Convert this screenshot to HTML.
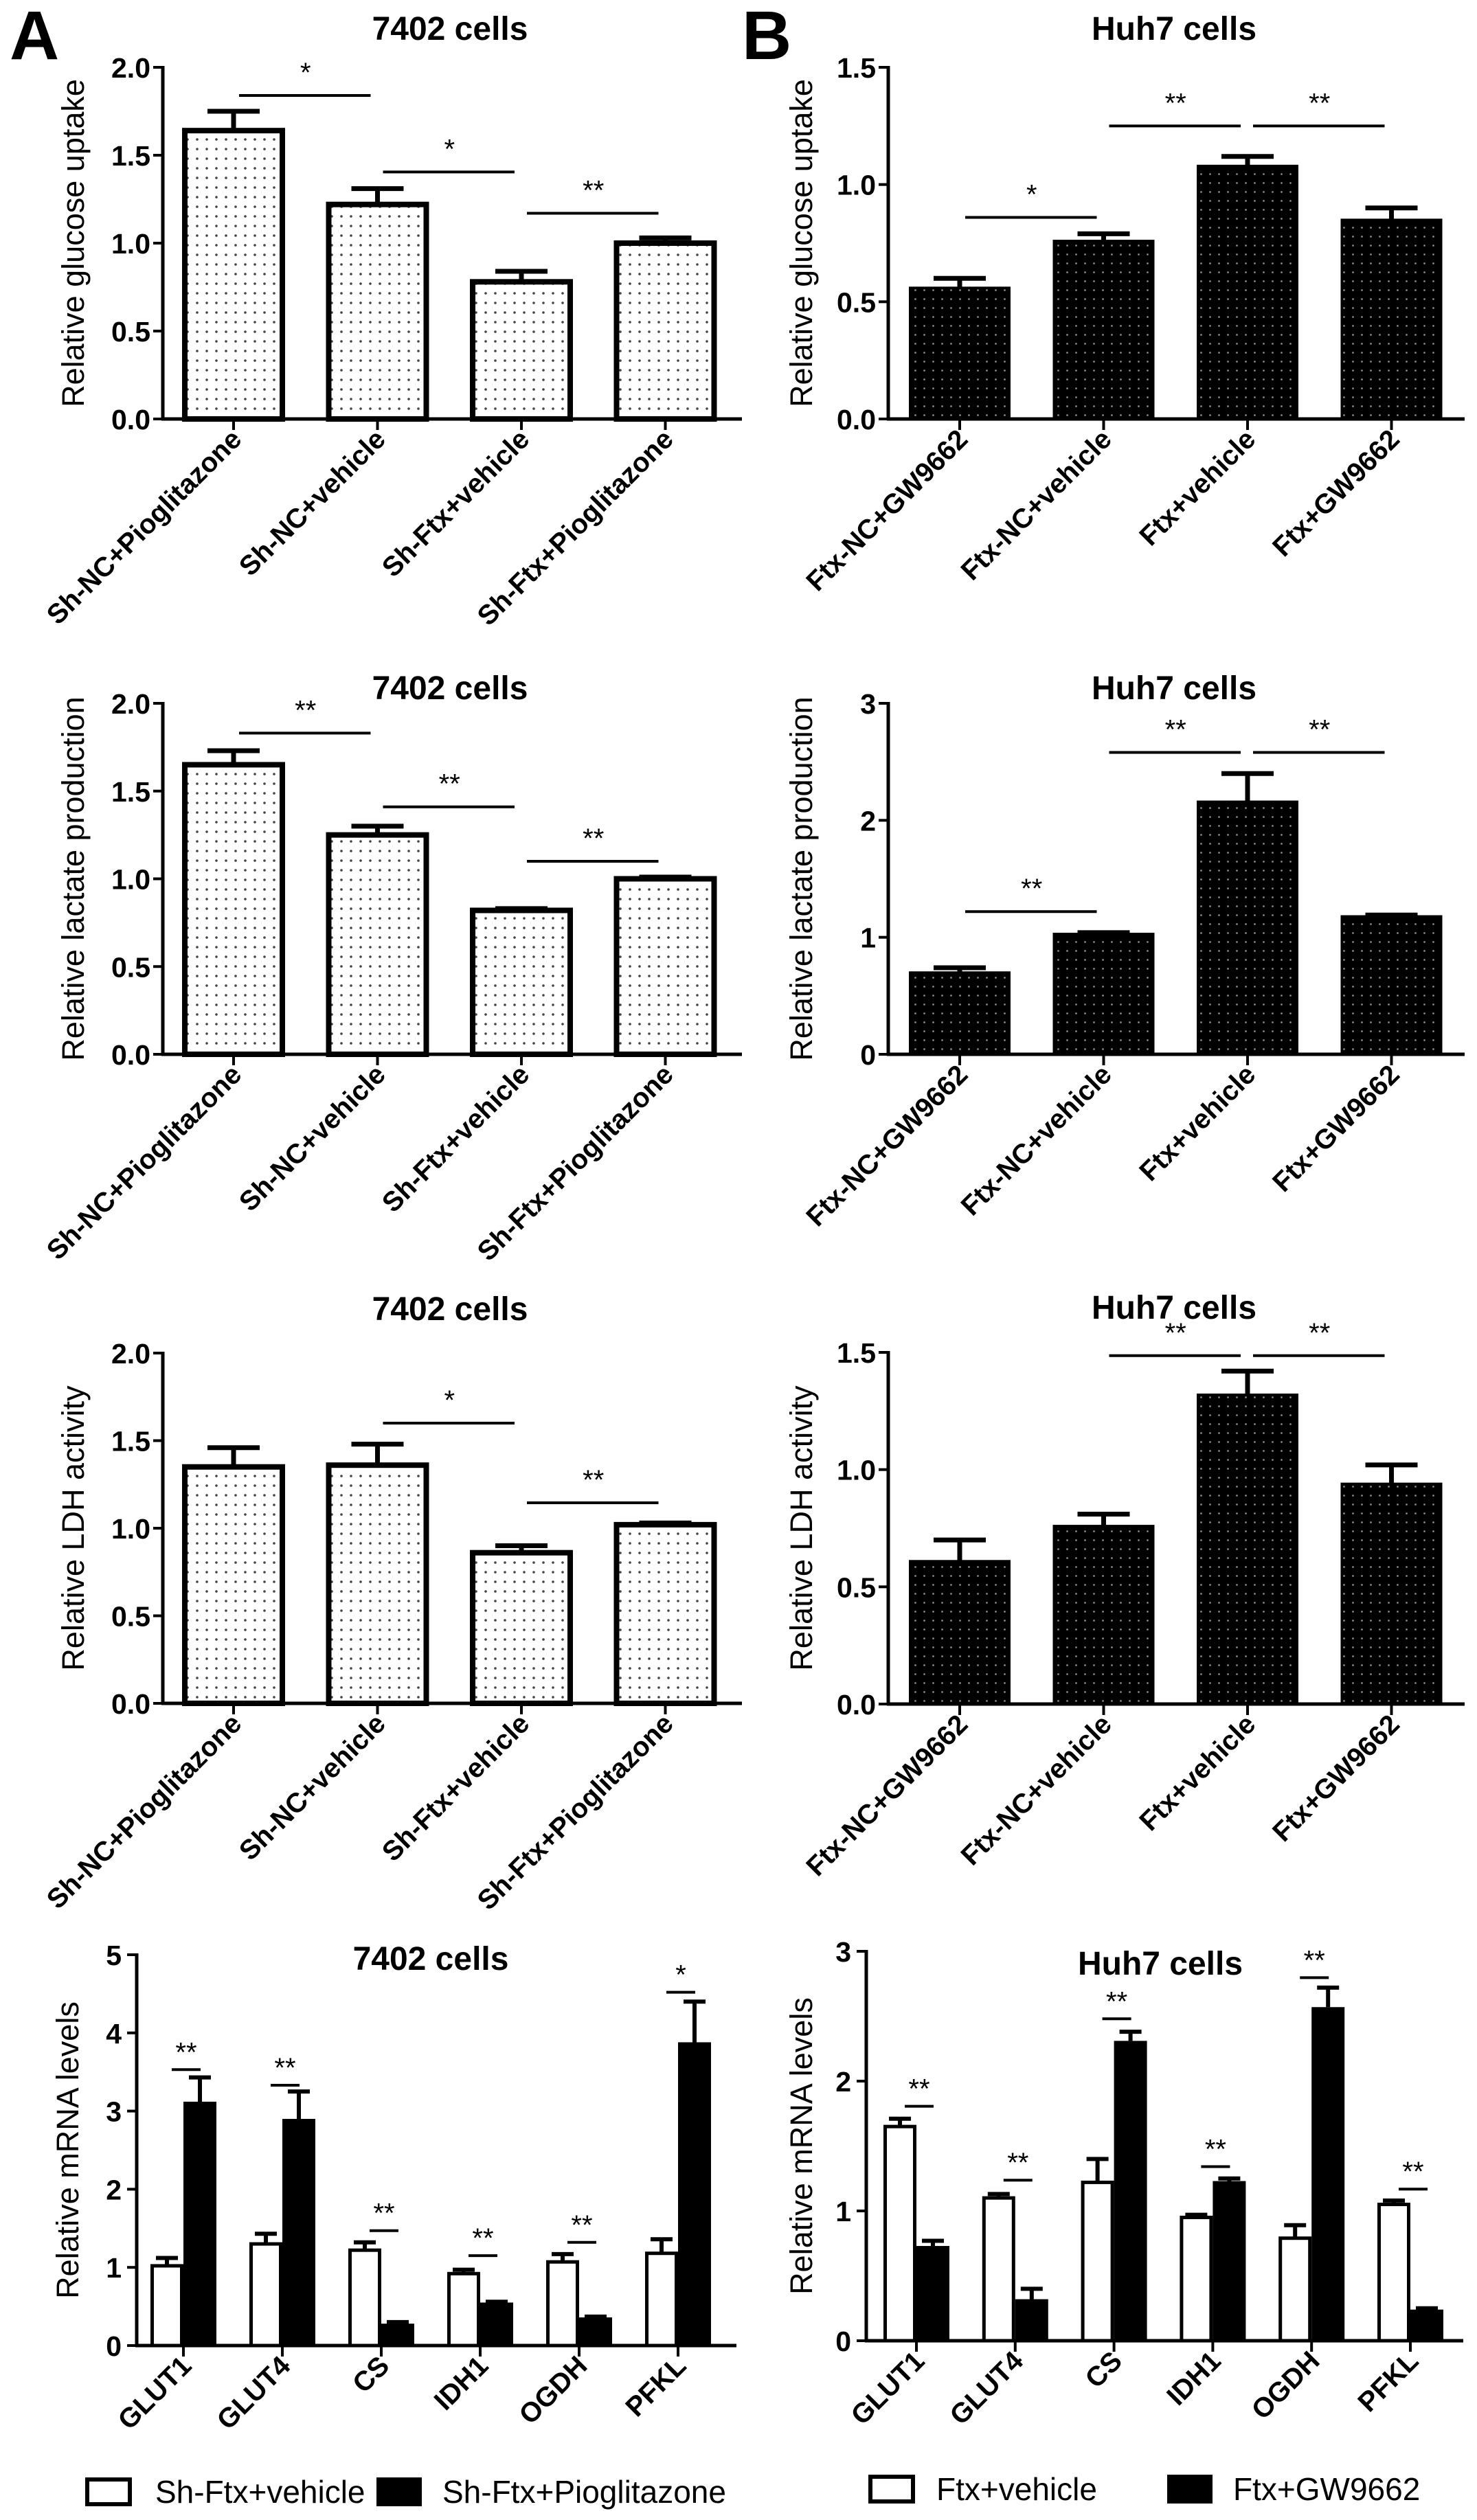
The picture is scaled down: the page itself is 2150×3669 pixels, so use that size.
<!DOCTYPE html>
<html><head><meta charset="utf-8">
<style>
html,body{margin:0;padding:0;background:#fff;}
svg{display:block;font-family:"Liberation Sans",Arial,sans-serif;}
</style></head>
<body>
<svg id="fig" width="2150" height="3669" viewBox="0 0 2150 3669" xmlns="http://www.w3.org/2000/svg">
<defs>
<pattern id="dotsW" width="14" height="14" patternUnits="userSpaceOnUse"><rect width="14" height="14" fill="#fff"/><circle cx="7" cy="7" r="1.8" fill="#444"/></pattern>
<pattern id="dotsB" width="13" height="13" patternUnits="userSpaceOnUse"><rect width="13" height="13" fill="#000"/><circle cx="6.5" cy="6.5" r="1.4" fill="#888"/></pattern>
</defs>
<text x="14" y="86" font-size="100" font-weight="bold">A</text>
<text x="1080" y="86" font-size="100" font-weight="bold">B</text>
</svg>
<script>
const catsA = ["Sh-NC+Pioglitazone","Sh-NC+vehicle","Sh-Ftx+vehicle","Sh-Ftx+Pioglitazone"];
const catsB = ["Ftx-NC+GW9662","Ftx-NC+vehicle","Ftx+vehicle","Ftx+GW9662"];
const genes = ["GLUT1","GLUT4","CS","IDH1","OGDH","PFKL"];

const a1Vals = [1.64,1.22,0.78,1.00];
const a1Errs = [1.75,1.31,0.84,1.03];
const a1Ticks = ["0.0","0.5","1.0","1.5","2.0"];
const a1Sig = [[0,1,1.84,"*"],[1,2,1.405,"*"],[2,3,1.17,"**"]];

const b1Vals = [0.56,0.76,1.08,0.85];
const b1Errs = [0.60,0.79,1.12,0.90];
const b1Ticks = ["0.0","0.5","1.0","1.5"];
const b1Sig = [[0,1,0.86,"*"],[1,2,1.25,"**"],[2,3,1.25,"**"]];

const a2Vals = [1.65,1.25,0.82,1.00];
const a2Errs = [1.73,1.30,0.83,1.01];
const a2Ticks = ["0.0","0.5","1.0","1.5","2.0"];
const a2Sig = [[0,1,1.83,"**"],[1,2,1.41,"**"],[2,3,1.10,"**"]];

const b2Vals = [0.70,1.03,2.16,1.18];
const b2Errs = [0.74,1.04,2.40,1.19];
const b2Ticks = ["0","1","2","3"];
const b2Sig = [[0,1,1.22,"**"],[1,2,2.58,"**"],[2,3,2.58,"**"]];

const a3Vals = [1.35,1.36,0.86,1.02];
const a3Errs = [1.46,1.48,0.90,1.03];
const a3Ticks = ["0.0","0.5","1.0","1.5","2.0"];
const a3Sig = [[1,2,1.60,"*"],[2,3,1.145,"**"]];

const b3Vals = [0.61,0.76,1.32,0.94];
const b3Errs = [0.70,0.81,1.42,1.02];
const b3Ticks = ["0.0","0.5","1.0","1.5"];
const b3Sig = [[1,2,1.486,"**"],[2,3,1.486,"**"]];

const a4White = [1.02,1.30,1.22,0.92,1.07,1.18];
const a4WhiteErr = [1.12,1.43,1.32,0.97,1.17,1.36];
const a4Black = [3.12,2.90,0.28,0.55,0.36,3.88];
const a4BlackErr = [3.43,3.25,0.30,0.56,0.37,4.40];
const a4Ticks = ["0","1","2","3","4","5"];
const a4SigY = [3.53,3.33,1.47,1.15,1.32,4.52];
const a4SigLbl = ["**","**","**","**","**","*"];

const b4White = [1.65,1.10,1.22,0.95,0.79,1.05];
const b4WhiteErr = [1.71,1.13,1.40,0.97,0.89,1.08];
const b4Black = [0.73,0.32,2.31,1.23,2.57,0.24];
const b4BlackErr = [0.77,0.40,2.38,1.25,2.72,0.25];
const b4Ticks = ["0","1","2","3"];
const b4SigY = [1.806,1.237,2.48,1.341,2.797,1.168];
const b4SigLbl = ["**","**","**","**","**","**"];

const svg = document.getElementById('fig');
const NS = "http://www.w3.org/2000/svg";
function mk(tag, attrs, text){
  const e = document.createElementNS(NS, tag);
  for (const k in attrs) e.setAttribute(k, attrs[k]);
  if (text !== undefined) e.textContent = text;
  svg.appendChild(e);
  return e;
}

function singleChart(id, cfg, cats, vals, errs, ticks, sig){
  const max = parseFloat(ticks[ticks.length-1]);
  const y = v => cfg.zero - (v/max)*(cfg.zero-cfg.top);
  const x = i => cfg.x0 + i*cfg.step;
  let t = mk('text',{x:cfg.titleX,y:cfg.titleY,'font-size':48,'font-weight':'bold','text-anchor':'middle'},cfg.title);
  
  
  let ax = mk('line',{x1:cfg.ax,y1:cfg.top-2,x2:cfg.ax,y2:cfg.zero,stroke:'#000','stroke-width':5});
  
  
  ticks.forEach((lb)=>{
    const v = parseFloat(lb);
    const tk = mk('line',{x1:cfg.ax-14,y1:y(v),x2:cfg.ax,y2:y(v),stroke:'#000','stroke-width':4});
    
    
    const tl = mk('text',{x:cfg.ax-18,y:y(v)+15,'font-size':41,'font-weight':'bold','text-anchor':'end'},lb);
    
    
  });
  const yt = mk('text',{x:0,y:0,'font-size':45,'text-anchor':'middle',transform:`translate(${cfg.ytX},${(cfg.top+cfg.zero)/2}) rotate(-90)`},cfg.ytitle);
  
  
  vals.forEach((v,i)=>{
    const cx = x(i), w = cfg.barW;
    const eb = mk('path',{d:`M${cx} ${y(v)} V${y(errs[i])} M${cx-38} ${y(errs[i])} H${cx+38}`,stroke:'#000','stroke-width':7,fill:'none'});
    
    
    const b = mk('rect',{x:cx-w/2,y:y(v),width:w,height:cfg.zero-y(v),fill:cfg.dark?'url(#dotsB)':'url(#dotsW)',stroke:'#000','stroke-width':cfg.dark?3:8});
    
    
    const xt = mk('line',{x1:cx,y1:cfg.zero,x2:cx,y2:cfg.zero+16,stroke:'#000','stroke-width':4});
    
    
    const cl = mk('text',{x:0,y:0,'font-size':40,'font-weight':'bold','text-anchor':'end',transform:`translate(${cx+14},${cfg.zero+32}) rotate(-45)`},cats[i]);
    
    
  });
  let xa = mk('line',{x1:cfg.ax-2,y1:cfg.zero,x2:cfg.axEnd,y2:cfg.zero,stroke:'#000','stroke-width':5});
  
  
  sig.forEach(s=>{
    const l = mk('line',{x1:x(s[0])+8,y1:y(s[2]),x2:x(s[1])-10,y2:y(s[2]),stroke:'#000','stroke-width':4});
    
    
    const st = mk('text',{x:(x(s[0])+x(s[1]))/2,y:y(s[2])-20,'font-size':40,'text-anchor':'middle'},s[3]);
    
    
  });
}

function groupChart(id, cfg, white, whiteErr, black, blackErr, ticks, sigY, sigLbl){
  const max = parseFloat(ticks[ticks.length-1]);
  const y = v => cfg.zero - (v/max)*(cfg.zero-cfg.top);
  const x = i => cfg.x0 + i*cfg.step;
  const w = 48;
  let t = mk('text',{x:cfg.titleX,y:cfg.titleY,'font-size':48,'font-weight':'bold','text-anchor':'middle'},cfg.title);
  
  
  let ax = mk('line',{x1:cfg.ax,y1:cfg.top-2,x2:cfg.ax,y2:cfg.zero,stroke:'#000','stroke-width':5});
  
  
  ticks.forEach(lb=>{
    const v = parseFloat(lb);
    const tk = mk('line',{x1:cfg.ax-14,y1:y(v),x2:cfg.ax,y2:y(v),stroke:'#000','stroke-width':4});
    
    
    const tl = mk('text',{x:cfg.ax-22,y:y(v)+15,'font-size':41,'font-weight':'bold','text-anchor':'end'},lb);
    
    
  });
  const yt = mk('text',{x:0,y:0,'font-size':45,'text-anchor':'middle',transform:`translate(${cfg.ytX},${(cfg.top+cfg.zero)/2}) rotate(-90)`},'Relative mRNA levels');
  
  
  genes.forEach((g,i)=>{
    const cx = x(i);
    const wx = cx - w, bx = cx;
    const e1 = mk('path',{d:`M${wx+w/2} ${y(white[i])} V${y(whiteErr[i])} M${wx+w/2-16} ${y(whiteErr[i])} H${wx+w/2+16}`,stroke:'#000','stroke-width':6,fill:'none'});
    
    
    const e2 = mk('path',{d:`M${bx+w/2} ${y(black[i])} V${y(blackErr[i])} M${bx+w/2-16} ${y(blackErr[i])} H${bx+w/2+16}`,stroke:'#000','stroke-width':6,fill:'none'});
    
    
    const r1 = mk('rect',{x:wx+2.5,y:y(white[i]),width:w-5,height:cfg.zero-y(white[i]),fill:'#fff',stroke:'#000','stroke-width':5});
    
    
    const r2 = mk('rect',{x:bx,y:y(black[i]),width:w,height:cfg.zero-y(black[i]),fill:'#000'});
    
    
    const xt = mk('line',{x1:cx,y1:cfg.zero,x2:cx,y2:cfg.zero+16,stroke:'#000','stroke-width':4});
    
    
    const cl = mk('text',{x:0,y:0,'font-size':40,'font-weight':'bold','text-anchor':'end',transform:`translate(${cx+14},${cfg.zero+32}) rotate(-45)`},g);
    
    
    const sl = mk('line',{x1:cx-17,y1:y(sigY[i]),x2:cx+25,y2:y(sigY[i]),stroke:'#000','stroke-width':4});
    
    
    const st = mk('text',{x:cx+4,y:y(sigY[i])-12,'font-size':40,'text-anchor':'middle'},sigLbl[i]);
    
    
  });
  let xa = mk('line',{x1:cfg.ax-2,y1:cfg.zero,x2:cfg.axEnd,y2:cfg.zero,stroke:'#000','stroke-width':5});
  
  
  const b1 = mk('rect',{x:cfg.lg[0],y:cfg.lgY-18,width:62,height:36,fill:'#fff',stroke:'#000','stroke-width':6});
  
  
  const t1 = mk('text',{x:cfg.lg[1],y:cfg.lgY+16,'font-size':46},cfg.lgText[0]);
  
  
  const b2 = mk('rect',{x:cfg.lg[2],y:cfg.lgY-21,width:66,height:42,fill:'#000'});
  
  
  const t2 = mk('text',{x:cfg.lg[3],y:cfg.lgY+16,'font-size':46},cfg.lgText[1]);
  
  
}

const colA = {ax:237,x0:340,step:209.5,barW:142,axEnd:1080,titleX:655,ytX:122,dark:false};
const colB = {ax:1293,x0:1397,step:209.5,barW:145,axEnd:2132,titleX:1709,ytX:1182,dark:true};

singleChart('glucose-7402', Object.assign({},colA,{zero:610,top:98,titleY:58,title:'7402 cells',ytitle:'Relative glucose uptake'}), catsA, a1Vals, a1Errs, a1Ticks, a1Sig);
singleChart('glucose-huh7', Object.assign({},colB,{zero:610,top:98,titleY:58,title:'Huh7 cells',ytitle:'Relative glucose uptake'}), catsB, b1Vals, b1Errs, b1Ticks, b1Sig);
singleChart('lactate-7402', Object.assign({},colA,{zero:1535,top:1024,titleY:1018,title:'7402 cells',ytitle:'Relative lactate production'}), catsA, a2Vals, a2Errs, a2Ticks, a2Sig);
singleChart('lactate-huh7', Object.assign({},colB,{zero:1535,top:1024,titleY:1018,title:'Huh7 cells',ytitle:'Relative lactate production'}), catsB, b2Vals, b2Errs, b2Ticks, b2Sig);
singleChart('ldh-7402', Object.assign({},colA,{zero:2480,top:1970,titleY:1922,title:'7402 cells',ytitle:'Relative LDH activity'}), catsA, a3Vals, a3Errs, a3Ticks, a3Sig);
singleChart('ldh-huh7', Object.assign({},colB,{zero:2481,top:1969,titleY:1920,title:'Huh7 cells',ytitle:'Relative LDH activity'}), catsB, b3Vals, b3Errs, b3Ticks, b3Sig);

groupChart('mrna-7402',{ax:199,x0:267,step:144,zero:3415,top:2846,axEnd:1072,titleX:627,titleY:2868,title:'7402 cells',ytX:114,lgY:3628,lg:[127,226,548,644],lgText:['Sh-Ftx+vehicle','Sh-Ftx+Pioglitazone']}, a4White, a4WhiteErr, a4Black, a4BlackErr, a4Ticks, a4SigY, a4SigLbl);
groupChart('mrna-huh7',{ax:1261,x0:1334,step:143.8,zero:3408,top:2841,axEnd:2130,titleX:1689,titleY:2875,title:'Huh7 cells',ytX:1182,lgY:3624,lg:[1267,1363,1699,1795],lgText:['Ftx+vehicle','Ftx+GW9662']}, b4White, b4WhiteErr, b4Black, b4BlackErr, b4Ticks, b4SigY, b4SigLbl);
</script>
</body></html>
